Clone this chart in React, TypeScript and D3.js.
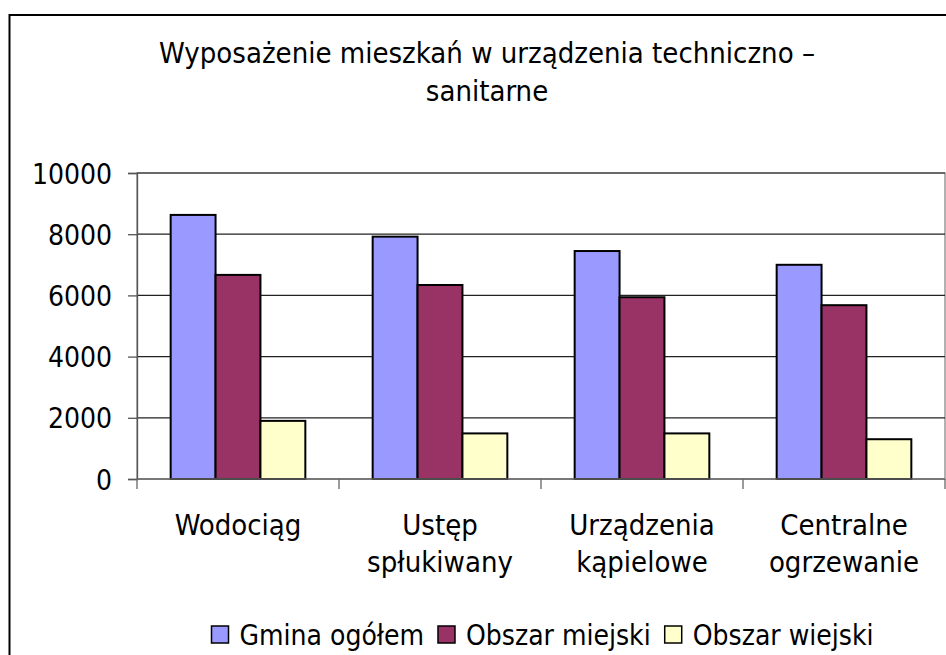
import React, { useEffect, useRef } from "react";
import * as d3 from "d3";

const categories: string[][] = [
  ["Wodociąg"],
  ["Ustęp", "spłukiwany"],
  ["Urządzenia", "kąpielowe"],
  ["Centralne", "ogrzewanie"],
];
const seriesNames = ["Gmina ogółem", "Obszar miejski", "Obszar wiejski"];
const seriesColors = ["#9999FF", "#993366", "#FFFFCC"];
const gminaOgolem = [8630, 7920, 7450, 7000];
const obszarMiejski = [6670, 6340, 5940, 5680];
const obszarWiejski = [1900, 1490, 1490, 1300];
const yTicks = [0, 2000, 4000, 6000, 8000, 10000];
const titleLines = ["Wyposażenie mieszkań w urządzenia techniczno –", "sanitarne"];

const FONT = "'DejaVu Sans Condensed', 'DejaVu Sans', sans-serif";

export default function App() {
  const ref = useRef<SVGSVGElement | null>(null);

  useEffect(() => {
    const svg = d3.select(ref.current);
    svg.selectAll("*").remove();
    const W = 946, H = 655;
    const left = 137, right = 945, top = 173, bottom = 479;

    // outer frame
    svg.append("rect").attr("x", 9.5).attr("y", 15).attr("width", W + 10).attr("height", H + 10)
      .attr("fill", "#fff").attr("stroke", "#000").attr("stroke-width", 2);

    // title
    const title = svg.append("text").attr("text-anchor", "middle").attr("font-family", FONT)
      .attr("font-size", 29).attr("font-stretch", "condensed").attr("fill", "#000");
    titleLines.forEach((t, i) => {
      title.append("tspan").attr("x", 487).attr("y", 63 + i * 38).text(t);
    });

    const y = d3.scaleLinear().domain([0, 10000]).range([bottom, top]);
    const catKeys = categories.map((c) => c.join(" "));
    const x0 = d3.scaleBand<string>().domain(catKeys).range([left, right]).paddingInner(0).paddingOuter(0);
    const x1 = d3.scaleBand<string>().domain(seriesNames).range([0, x0.bandwidth()]).paddingInner(0).paddingOuter(0.75);

    // plot area border
    svg.append("rect").attr("x", left).attr("y", top).attr("width", right - left).attr("height", bottom - top)
      .attr("fill", "none").attr("stroke", "#888").attr("stroke-width", 1.3);

    // gridlines
    svg.append("g").selectAll("line").data(yTicks.filter((t) => t > 0)).join("line")
      .attr("x1", left).attr("x2", right)
      .attr("y1", (d) => y(d)).attr("y2", (d) => y(d))
      .attr("stroke", "#222").attr("stroke-width", 1.2);

    // bars
    const data = [gminaOgolem, obszarMiejski, obszarWiejski];
    const g = svg.append("g");
    catKeys.forEach((c, ci) => {
      seriesNames.forEach((s, si) => {
        const v = data[si][ci];
        g.append("rect")
          .attr("x", (x0(c) as number) + (x1(s) as number))
          .attr("y", y(v))
          .attr("width", x1.bandwidth())
          .attr("height", y(0) - y(v))
          .attr("fill", seriesColors[si])
          .attr("stroke", "#000").attr("stroke-width", 2);
      });
    });

    // y axis
    const yAxis = svg.append("g").attr("transform", `translate(${left},0)`)
      .call(d3.axisLeft(y).tickValues(yTicks).tickSize(9).tickPadding(16).tickFormat((d) => String(d)));
    yAxis.select(".domain").attr("stroke", "#555").attr("stroke-width", 1.3);
    yAxis.selectAll(".tick line").attr("stroke", "#555").attr("stroke-width", 1.3);
    yAxis.selectAll(".tick text").attr("font-family", FONT).attr("font-stretch", "condensed")
      .attr("font-size", 28).attr("fill", "#000").attr("dy", "0.36em");

    // x axis
    svg.append("line").attr("x1", left).attr("x2", right).attr("y1", bottom).attr("y2", bottom)
      .attr("stroke", "#666").attr("stroke-width", 1.3);
    const bounds = catKeys.map((c) => x0(c) as number).concat([right]);
    svg.append("g").selectAll("line").data(bounds).join("line")
      .attr("x1", (d) => d).attr("x2", (d) => d).attr("y1", bottom).attr("y2", bottom + 10)
      .attr("stroke", "#666").attr("stroke-width", 1.3);

    // category labels
    categories.forEach((lines, ci) => {
      const cx = (x0(catKeys[ci]) as number) + x0.bandwidth() / 2;
      const t = svg.append("text").attr("text-anchor", "middle").attr("font-family", FONT)
        .attr("font-stretch", "condensed").attr("font-size", 29).attr("fill", "#000");
      lines.forEach((l, li) => {
        t.append("tspan").attr("x", cx).attr("y", 535 + li * 37).text(l);
      });
    });

    // legend
    const lg = svg.append("g");
    let cursor = 0;
    seriesNames.forEach((s, si) => {
      const it = lg.append("g").attr("transform", `translate(${cursor},0)`);
      it.append("rect").attr("x", 0).attr("y", 626).attr("width", 17).attr("height", 17)
        .attr("fill", seriesColors[si]).attr("stroke", "#000").attr("stroke-width", 1.5);
      const tx = it.append("text").attr("x", 28).attr("y", 645).attr("font-family", FONT)
        .attr("font-stretch", "condensed").attr("font-size", 28).attr("fill", "#000").text(s);
      const w = (tx.node() as SVGTextElement).getComputedTextLength();
      cursor += 28 + w + 14;
    });
    const total = cursor - 14;
    const start = 542.5 - total / 2;
    lg.attr("transform", `translate(${start},0)`);
  }, []);

  return (
    <svg ref={ref} width={946} height={655}
      style={{ position: "absolute", left: 0, top: 0, background: "#fff" }} />
  );
}
